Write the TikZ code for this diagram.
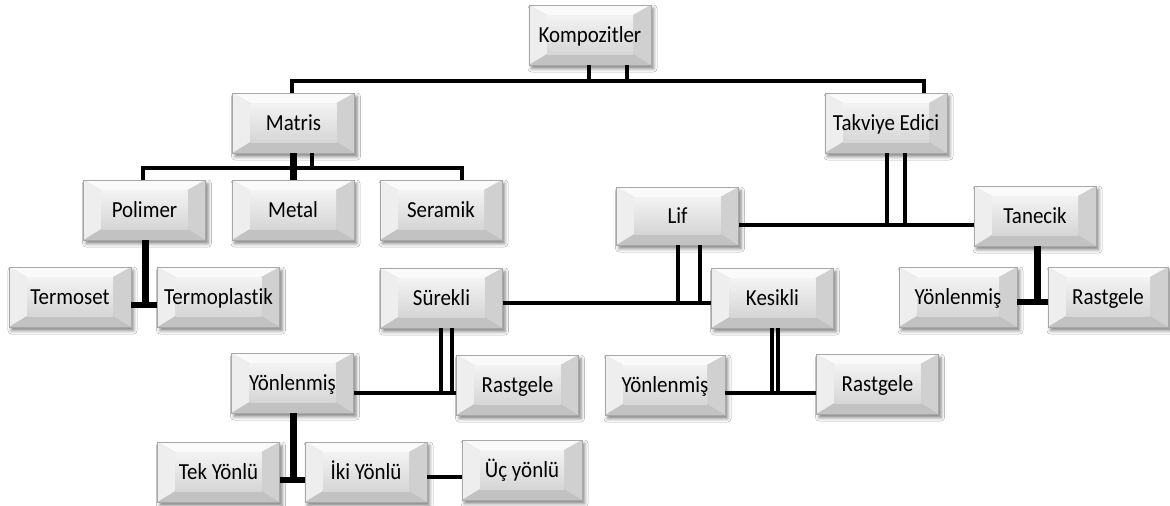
\documentclass[tikz,border=0pt]{standalone}
\usepackage{fontspec}
\setmainfont{Carlito}[FakeStretch=0.91, Ligatures={NoCommon}]
\usetikzlibrary{shadows.blur}
\definecolor{cEdge}{HTML}{A8A8A8}
\definecolor{cFaceTop}{HTML}{F3F3F3}
\definecolor{cFaceBot}{HTML}{D6D6D6}
\definecolor{cBevTop}{HTML}{FAFAFA}
\definecolor{cBevLeft}{HTML}{EEEEEE}
\definecolor{cBevRight}{HTML}{D0D0D0}
\definecolor{cBevBot}{HTML}{C2C2C2}
\tikzset{
  bev/.style={
    minimum width=122pt, minimum height=60pt, inner sep=0pt,
    text height=18pt, text depth=3pt,
    font=\fontsize{23}{27}\selectfont, text=black,
    fill=cFaceBot, draw=cEdge, line width=0.7pt,
    blur shadow={shadow xshift=2.5pt, shadow yshift=-3.5pt, shadow blur radius=3.5pt, shadow opacity=50},
    path picture={
      \fill[cBevTop] (path picture bounding box.north west) -- (path picture bounding box.north east)
        -- ([xshift=-18pt,yshift=-10pt]path picture bounding box.north east)
        -- ([xshift=18pt,yshift=-10pt]path picture bounding box.north west) -- cycle;
      \fill[cBevLeft] (path picture bounding box.north west)
        -- ([xshift=18pt,yshift=-10pt]path picture bounding box.north west)
        -- ([xshift=18pt,yshift=11pt]path picture bounding box.south west)
        -- (path picture bounding box.south west) -- cycle;
      \fill[cBevRight] (path picture bounding box.north east)
        -- ([xshift=-18pt,yshift=-10pt]path picture bounding box.north east)
        -- ([xshift=-18pt,yshift=11pt]path picture bounding box.south east)
        -- (path picture bounding box.south east) -- cycle;
      \fill[cBevBot] (path picture bounding box.south west)
        -- ([xshift=18pt,yshift=11pt]path picture bounding box.south west)
        -- ([xshift=-18pt,yshift=11pt]path picture bounding box.south east)
        -- (path picture bounding box.south east) -- cycle;
      \shade[top color=cFaceTop, bottom color=cFaceBot]
        ([xshift=18pt,yshift=-10pt]path picture bounding box.north west) rectangle
        ([xshift=-18pt,yshift=11pt]path picture bounding box.south east);
    }
  },
  conn/.style={line width=4.5pt, black, line join=miter, line cap=butt},
  thickconn/.style={line width=7pt, black, line cap=butt},
  midconn/.style={line width=6pt, black, line cap=butt}
}
\begin{document}
\begin{tikzpicture}[x=1pt, y=-1pt]
\useasboundingbox[fill=white] (0,0) rectangle (1170,506);

% nodes
\node[bev] (komp) at (590,35) {Kompozitler};
\node[bev] (matris) at (293.5,123) {Matris};
\node[bev] (takviye) at (886,123) {Takviye Edici};
\node[bev] (polimer) at (144.5,210) {Polimer};
\node[bev] (metal) at (293,210) {Metal};
\node[bev] (seramik) at (441,210) {Seramik};
\node[bev, minimum height=58pt] (lif) at (677.5,216) {Lif};
\node[bev] (tanecik) at (1035,216) {Tanecik};
\node[bev] (termoset) at (70,297) {Termoset};
\node[bev] (termoplastik) at (218.5,297) {Termoplastik};
\node[bev] (surekli) at (441.5,298) {Sürekli};
\node[bev] (kesikli) at (772.5,298) {Kesikli};
\node[bev, minimum width=118pt] (yon3) at (958,297) {Yönlenmiş};
\node[bev, minimum width=120pt] (rast3) at (1108,297) {Rastgele};
\node[bev] (yon1) at (292.5,383) {Yönlenmiş};
\node[bev] (rast1) at (517.5,385) {Rastgele};
\node[bev, minimum width=120pt] (yon2) at (665,385) {Yönlenmiş};
\node[bev] (rast2) at (877.5,384) {Rastgele};
\node[bev] (tek) at (218.5,472) {Tek Yönlü};
\node[bev] (iki) at (366,472) {İki Yönlü};
\node[bev, minimum width=120pt] (uc) at (522,470) {Üç yönlü};

% bus coordinates
\coordinate (a1) at (589,81);  \coordinate (a2) at (627,81);
\coordinate (a3) at (292,81);  \coordinate (a4) at (924,81);
\coordinate (b1) at (143,168); \coordinate (b2) at (462,168); \coordinate (b3) at (312,168);
\coordinate (c1) at (145,305);
\coordinate (d1) at (887,225); \coordinate (d2) at (905,225);
\coordinate (e1) at (678,303); \coordinate (e2) at (700,303);
\coordinate (f1) at (441,393); \coordinate (f2) at (452,393);
\coordinate (g1) at (772,393); \coordinate (g2) at (778,393);
\coordinate (h1) at (1037,302);
\coordinate (i1) at (293,480);
\coordinate (j1) at (0,477);

% Kompozitler
\draw[conn] (komp.south -| a1) -- (a1);
\draw[conn] (komp.south -| a2) -- (a2);
\draw[conn] (matris.north -| a3) -- (a3) -- (a4) -- (takviye.north -| a4);

% Matris
\draw[conn] (polimer.north -| b1) -- (b1) -- (b2) -- (seramik.north -| b2);
\draw[conn] (matris.south -| b3) -- (b3);
\draw[thickconn] (matris.south -| metal.north) -- (metal.north);

% Polimer
\draw[thickconn] (polimer.south -| c1) -- (c1);
\draw[midconn] (termoset.east |- c1) -- (termoplastik.west |- c1);

% Takviye Edici
\draw[conn] (takviye.south -| d1) -- (d1);
\draw[conn] (takviye.south -| d2) -- (d2);
\draw[conn] (lif.east |- d1) -- (tanecik.west |- d1);

% Lif
\draw[conn] (lif.south -| e1) -- (e1);
\draw[conn] (lif.south -| e2) -- (e2);
\draw[conn] (surekli.east |- e1) -- (kesikli.west |- e1);

% Surekli
\draw[conn] (surekli.south -| f1) -- (f1);
\draw[conn] (surekli.south -| f2) -- (f2);
\draw[conn] (yon1.east |- f1) -- (rast1.west |- f1);

% Kesikli
\draw[conn] (kesikli.south -| g1) -- (g1);
\draw[conn] (kesikli.south -| g2) -- (g2);
\draw[conn] (yon2.east |- g1) -- (rast2.west |- g1);

% Tanecik
\draw[thickconn] (tanecik.south -| h1) -- (h1);
\draw[midconn] (yon3.east |- h1) -- (rast3.west |- h1);

% Yonlenmis (Surekli)
\draw[thickconn] (yon1.south -| i1) -- (i1);
\draw[midconn] (tek.east |- i1) -- (iki.west |- i1);

% Iki -> Uc
\draw[conn] (iki.east |- j1) -- (uc.west |- j1);
\end{tikzpicture}
\end{document}
